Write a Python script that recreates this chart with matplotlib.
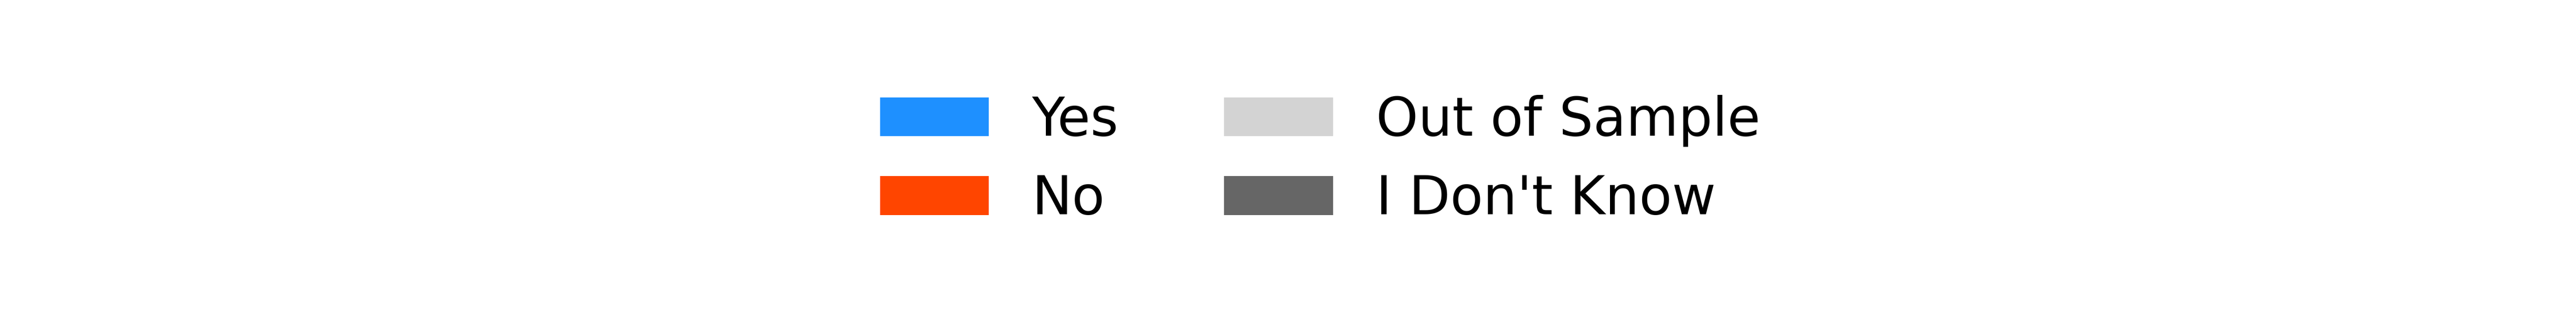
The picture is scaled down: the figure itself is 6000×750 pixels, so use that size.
import matplotlib
matplotlib.use("Agg")
import matplotlib.pyplot as plt
from matplotlib.patches import Patch

labels = ["Yes", "No", "Out of Sample", "I Don't Know"]
colors = ["#1E90FF", "#FF4500", "#D3D3D3", "#666666"]

fig = plt.figure(figsize=(20, 2.5), dpi=300)
handles = [Patch(facecolor=c, edgecolor="none", label=l) for l, c in zip(labels, colors)]
leg = fig.legend(handles=handles, loc="center", bbox_to_anchor=(0.5125, 0.503),
                 ncol=2, frameon=False, fontsize=30, handlelength=2.03,
                 handleheight=0.74, handletextpad=0.8, columnspacing=1.97,
                 labelspacing=0.5)
fig.savefig("out.png", dpi=300, facecolor="white")
